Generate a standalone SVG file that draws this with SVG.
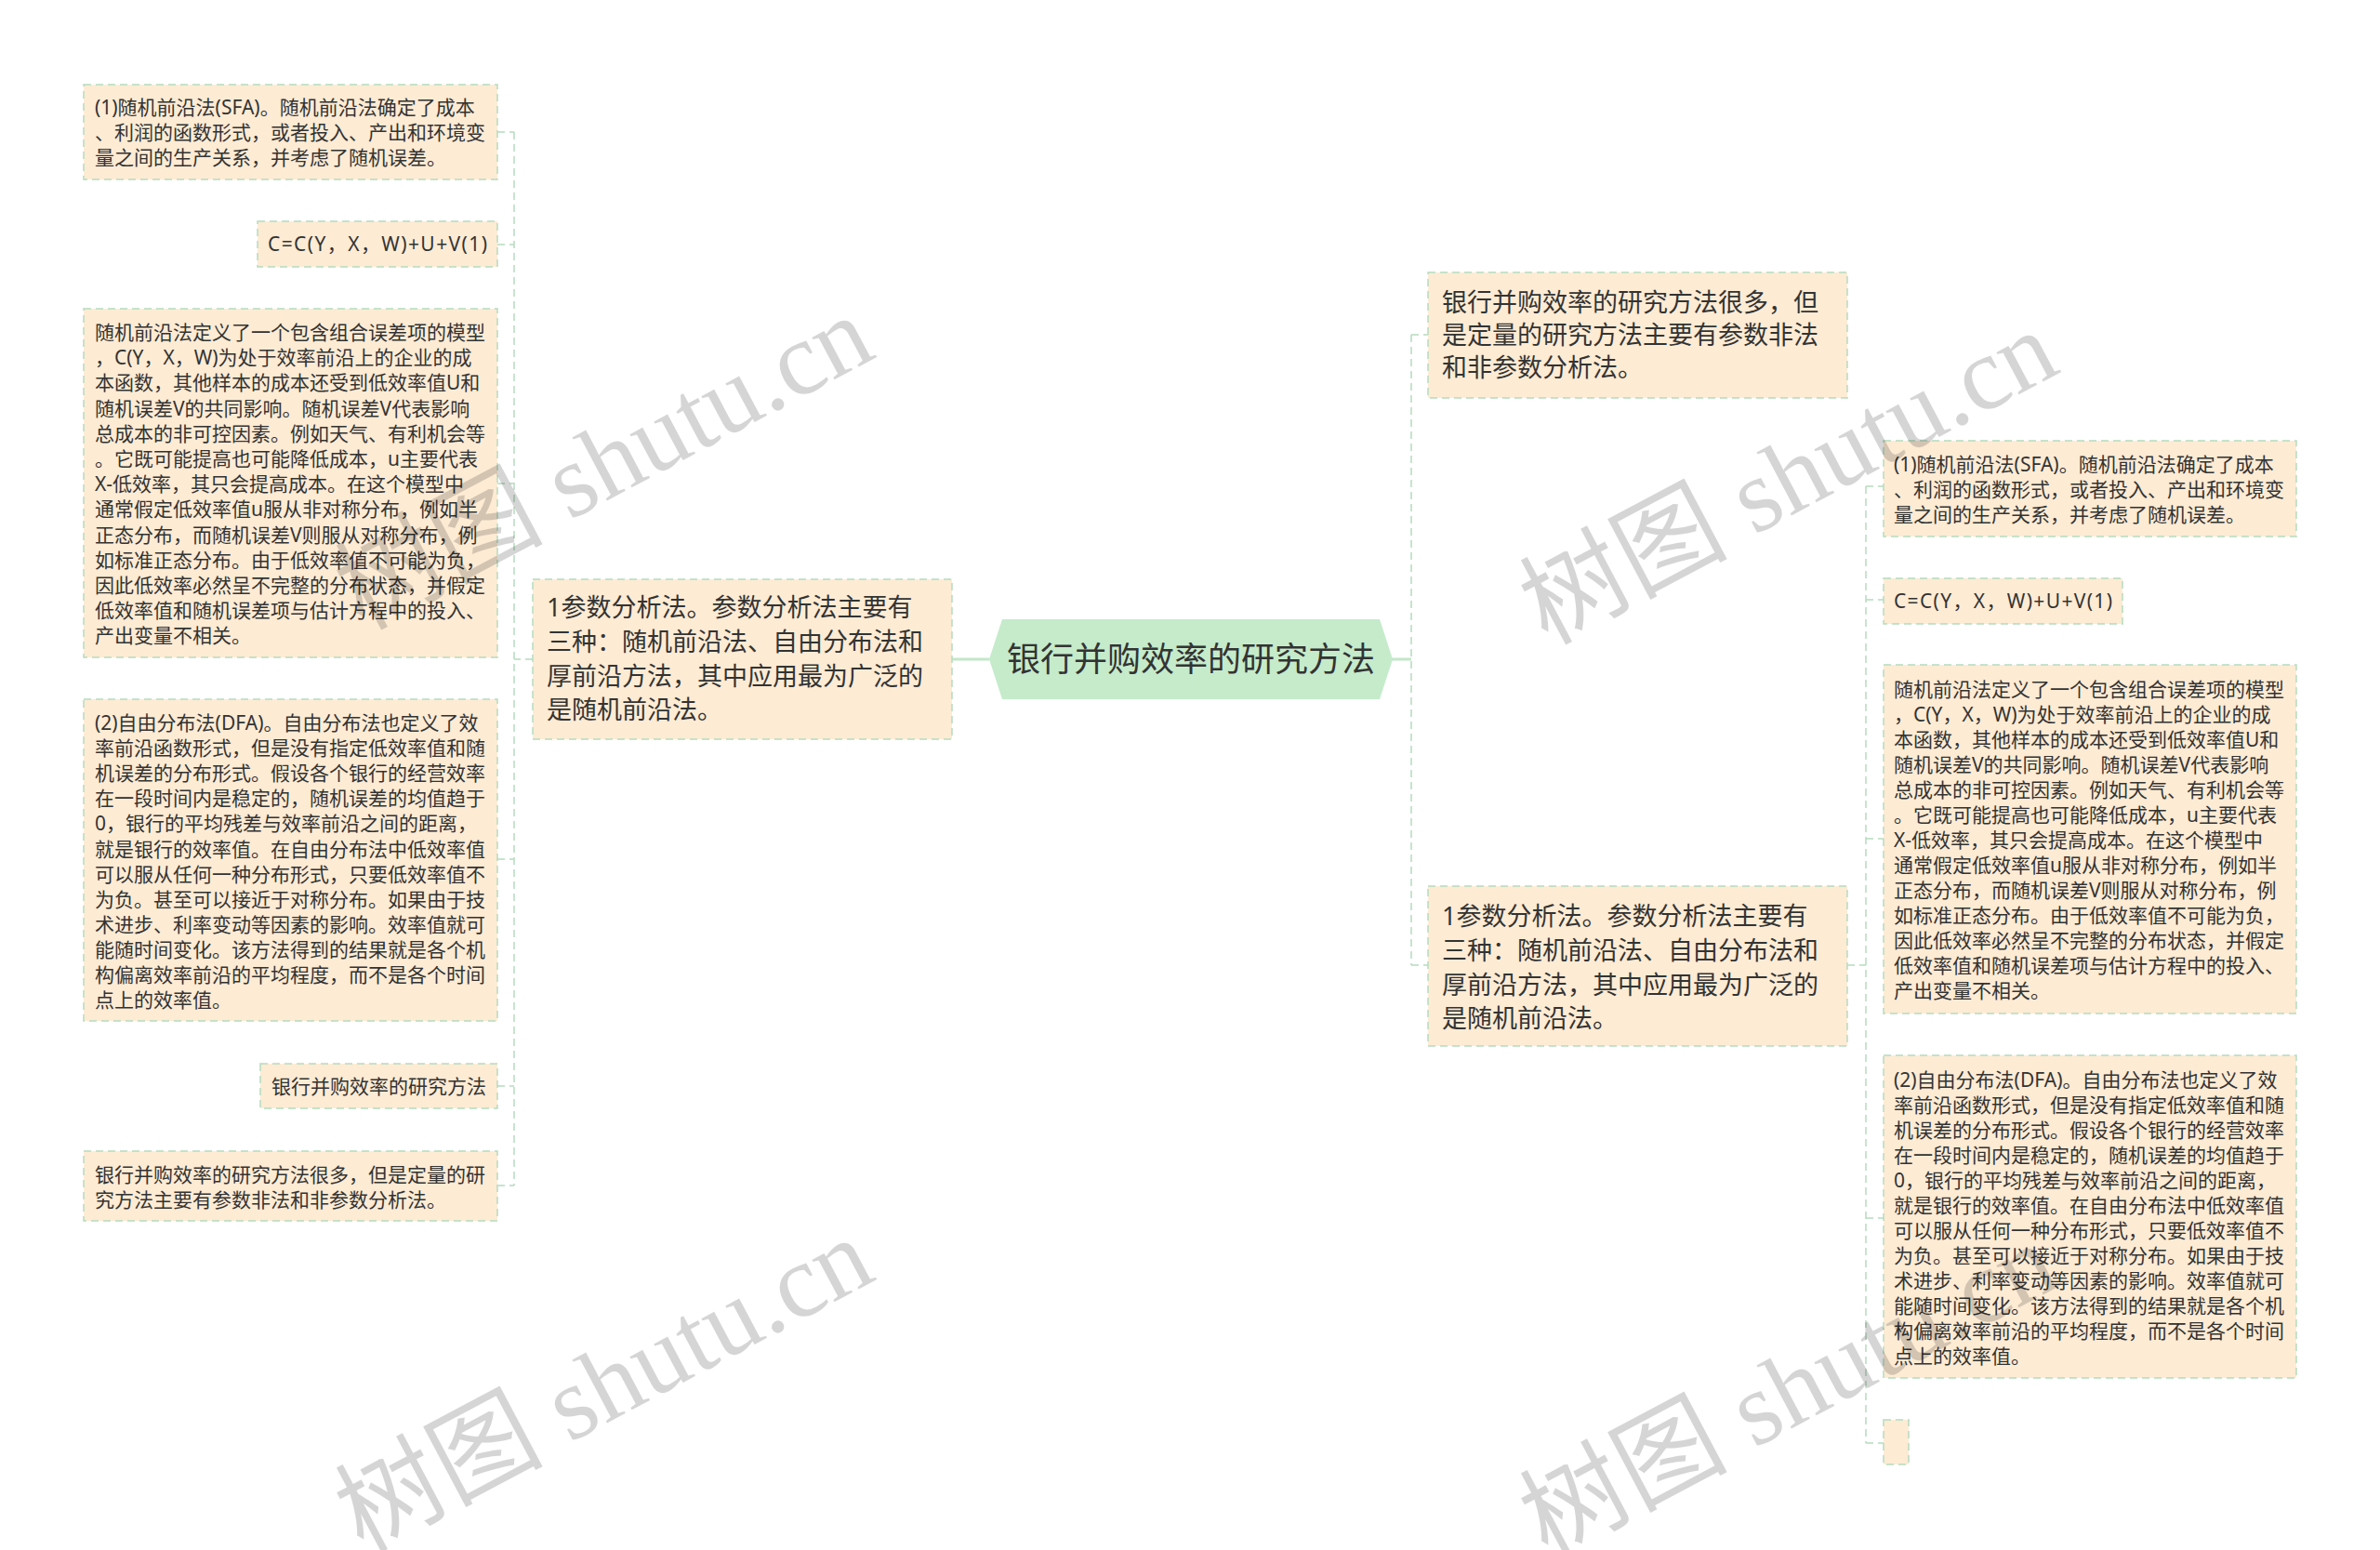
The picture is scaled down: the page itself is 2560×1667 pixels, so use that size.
<svg xmlns="http://www.w3.org/2000/svg" width="2560" height="1667" viewBox="0 0 2560 1667">
<style>
.box{fill:#fdebd4;stroke:#b5dcbe;stroke-width:1.5;stroke-dasharray:8 5}
.t{font-family:"Noto Sans","Noto Sans CJK SC",sans-serif;fill:#333}
.s{font-size:21px}
.m{font-size:27px}
.c{font-size:36px}
.ln{fill:none;stroke:#b5dcbe;stroke-width:1.5;stroke-dasharray:8 5}
.sl{fill:none;stroke:#c3e6c9;stroke-width:3}
.wm{font-family:"Liberation Serif","Noto Sans CJK SC",serif;font-size:112px;fill:#000;opacity:0.16}
</style>
<rect width="2560" height="1667" fill="#ffffff"/>
<g id="connectors">
<path class="sl" d="M1024 709H1064M1497 709H1518"/>
<path class="ln" d="M573 709H553M553 142V1275M535 142H553M535 263H553M535 520H553M535 924H553M535 1168H553M535 1275H553"/>
<path class="ln" d="M1518 360V1038M1518 360H1536M1518 1038H1536"/>
<path class="ln" d="M1987 1038H2007M2007 523V1552M2007 523H2026M2007 645H2026M2007 902H2026M2007 1310H2026M2007 1552H2026"/>
</g>
<g id="center">
<polygon points="1064,709 1078,666 1484,666 1498,709 1484,752 1078,752" fill="#c5ebcb"/>
<text class="t c" x="1281" y="722" text-anchor="middle">银行并购效率的研究方法</text>
</g>
<g id="left-branch">
<rect class="box" x="573" y="623" width="451" height="172"/>
<text class="t m"><tspan x="588" y="663">1参数分析法。参数分析法主要有</tspan><tspan x="588" y="700">三种：随机前沿法、自由分布法和</tspan><tspan x="588" y="737">厚前沿方法，其中应用最为广泛的</tspan><tspan x="588" y="773">是随机前沿法。</tspan></text>
</g>
<g id="L1">
<rect class="box" x="90" y="91" width="445" height="102"/>
<text class="t s"><tspan x="102" y="123">(1)随机前沿法(SFA)。随机前沿法确定了成本</tspan><tspan x="102" y="150">、利润的函数形式，或者投入、产出和环境变</tspan><tspan x="102" y="177">量之间的生产关系，并考虑了随机误差。</tspan></text>
</g>
<g id="L2">
<rect class="box" x="277" y="238" width="258" height="49"/>
<text class="t s" x="288" y="270" textLength="236" lengthAdjust="spacing">C=C(Y，X，W)+U+V(1)</text>
</g>
<g id="L3">
<rect class="box" x="90" y="332" width="445" height="375"/>
<text class="t s"><tspan x="102" y="365">随机前沿法定义了一个包含组合误差项的模型</tspan><tspan x="102" y="392.2">，C(Y，X，W)为处于效率前沿上的企业的成</tspan><tspan x="102" y="419.4">本函数，其他样本的成本还受到低效率值U和</tspan><tspan x="102" y="446.6">随机误差V的共同影响。随机误差V代表影响</tspan><tspan x="102" y="473.8">总成本的非可控因素。例如天气、有利机会等</tspan><tspan x="102" y="501">。它既可能提高也可能降低成本，u主要代表</tspan><tspan x="102" y="528.2">X-低效率，其只会提高成本。在这个模型中</tspan><tspan x="102" y="555.4">通常假定低效率值u服从非对称分布，例如半</tspan><tspan x="102" y="582.6">正态分布，而随机误差V则服从对称分布，例</tspan><tspan x="102" y="609.8">如标准正态分布。由于低效率值不可能为负，</tspan><tspan x="102" y="637">因此低效率必然呈不完整的分布状态，并假定</tspan><tspan x="102" y="664.2">低效率值和随机误差项与估计方程中的投入、</tspan><tspan x="102" y="691.4">产出变量不相关。</tspan></text>
</g>
<g id="L4">
<rect class="box" x="90" y="752" width="445" height="346"/>
<text class="t s"><tspan x="102" y="785">(2)自由分布法(DFA)。自由分布法也定义了效</tspan><tspan x="102" y="812.1">率前沿函数形式，但是没有指定低效率值和随</tspan><tspan x="102" y="839.2">机误差的分布形式。假设各个银行的经营效率</tspan><tspan x="102" y="866.3">在一段时间内是稳定的，随机误差的均值趋于</tspan><tspan x="102" y="893.4">0，银行的平均残差与效率前沿之间的距离，</tspan><tspan x="102" y="920.5">就是银行的效率值。在自由分布法中低效率值</tspan><tspan x="102" y="947.6">可以服从任何一种分布形式，只要低效率值不</tspan><tspan x="102" y="974.7">为负。甚至可以接近于对称分布。如果由于技</tspan><tspan x="102" y="1001.8">术进步、利率变动等因素的影响。效率值就可</tspan><tspan x="102" y="1028.9">能随时间变化。该方法得到的结果就是各个机</tspan><tspan x="102" y="1056">构偏离效率前沿的平均程度，而不是各个时间</tspan><tspan x="102" y="1083.1">点上的效率值。</tspan></text>
</g>
<g id="L5">
<rect class="box" x="280" y="1144" width="255" height="48"/>
<text class="t s" x="292" y="1176">银行并购效率的研究方法</text>
</g>
<g id="L6">
<rect class="box" x="90" y="1238" width="445" height="75"/>
<text class="t s"><tspan x="102" y="1271">银行并购效率的研究方法很多，但是定量的研</tspan><tspan x="102" y="1298">究方法主要有参数非法和非参数分析法。</tspan></text>
</g>
<g id="R-top">
<rect class="box" x="1536" y="293" width="451" height="135"/>
<text class="t m"><tspan x="1551" y="335">银行并购效率的研究方法很多，但</tspan><tspan x="1551" y="370">是定量的研究方法主要有参数非法</tspan><tspan x="1551" y="405">和非参数分析法。</tspan></text>
</g>
<g id="R-branch">
<rect class="box" x="1536" y="953" width="451" height="172"/>
<text class="t m"><tspan x="1551" y="995">1参数分析法。参数分析法主要有</tspan><tspan x="1551" y="1032">三种：随机前沿法、自由分布法和</tspan><tspan x="1551" y="1069">厚前沿方法，其中应用最为广泛的</tspan><tspan x="1551" y="1105">是随机前沿法。</tspan></text>
</g>
<g id="R1">
<rect class="box" x="2026" y="474" width="444" height="103"/>
<text class="t s"><tspan x="2037" y="507">(1)随机前沿法(SFA)。随机前沿法确定了成本</tspan><tspan x="2037" y="534">、利润的函数形式，或者投入、产出和环境变</tspan><tspan x="2037" y="561">量之间的生产关系，并考虑了随机误差。</tspan></text>
</g>
<g id="R2">
<rect class="box" x="2026" y="622" width="257" height="49"/>
<text class="t s" x="2037" y="654" textLength="235" lengthAdjust="spacing">C=C(Y，X，W)+U+V(1)</text>
</g>
<g id="R3">
<rect class="box" x="2026" y="715" width="444" height="375"/>
<text class="t s"><tspan x="2037" y="749">随机前沿法定义了一个包含组合误差项的模型</tspan><tspan x="2037" y="776">，C(Y，X，W)为处于效率前沿上的企业的成</tspan><tspan x="2037" y="803">本函数，其他样本的成本还受到低效率值U和</tspan><tspan x="2037" y="830">随机误差V的共同影响。随机误差V代表影响</tspan><tspan x="2037" y="857">总成本的非可控因素。例如天气、有利机会等</tspan><tspan x="2037" y="884">。它既可能提高也可能降低成本，u主要代表</tspan><tspan x="2037" y="911">X-低效率，其只会提高成本。在这个模型中</tspan><tspan x="2037" y="938">通常假定低效率值u服从非对称分布，例如半</tspan><tspan x="2037" y="965">正态分布，而随机误差V则服从对称分布，例</tspan><tspan x="2037" y="992">如标准正态分布。由于低效率值不可能为负，</tspan><tspan x="2037" y="1019">因此低效率必然呈不完整的分布状态，并假定</tspan><tspan x="2037" y="1046">低效率值和随机误差项与估计方程中的投入、</tspan><tspan x="2037" y="1073">产出变量不相关。</tspan></text>
</g>
<g id="R4">
<rect class="box" x="2026" y="1135" width="444" height="347"/>
<text class="t s"><tspan x="2037" y="1169">(2)自由分布法(DFA)。自由分布法也定义了效</tspan><tspan x="2037" y="1196">率前沿函数形式，但是没有指定低效率值和随</tspan><tspan x="2037" y="1223">机误差的分布形式。假设各个银行的经营效率</tspan><tspan x="2037" y="1250">在一段时间内是稳定的，随机误差的均值趋于</tspan><tspan x="2037" y="1277">0，银行的平均残差与效率前沿之间的距离，</tspan><tspan x="2037" y="1304">就是银行的效率值。在自由分布法中低效率值</tspan><tspan x="2037" y="1331">可以服从任何一种分布形式，只要低效率值不</tspan><tspan x="2037" y="1358">为负。甚至可以接近于对称分布。如果由于技</tspan><tspan x="2037" y="1385">术进步、利率变动等因素的影响。效率值就可</tspan><tspan x="2037" y="1412">能随时间变化。该方法得到的结果就是各个机</tspan><tspan x="2037" y="1439">构偏离效率前沿的平均程度，而不是各个时间</tspan><tspan x="2037" y="1466">点上的效率值。</tspan></text>
</g>
<g id="R5">
<rect class="box" x="2026" y="1527" width="27" height="48"/>
</g>
<g id="watermarks">
<text class="wm" x="650" y="535" text-anchor="middle" transform="rotate(-28 650 498)">树图 shutu.cn</text>
<text class="wm" x="1924" y="551" text-anchor="middle" transform="rotate(-28 1924 514)">树图 shutu.cn</text>
<text class="wm" x="650" y="1527" text-anchor="middle" transform="rotate(-28 650 1490)">树图 shutu.cn</text>
<text class="wm" x="1924" y="1533" text-anchor="middle" transform="rotate(-28 1924 1496)">树图 shutu.cn</text>
</g>
</svg>
